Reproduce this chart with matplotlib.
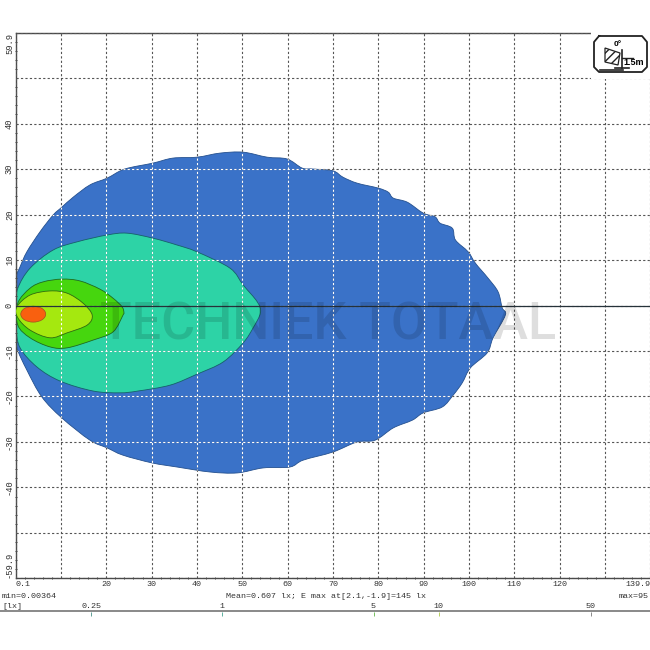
import matplotlib
matplotlib.use("Agg")
import matplotlib.pyplot as plt
from matplotlib.patches import Polygon, Ellipse, Rectangle, PathPatch
from matplotlib.path import Path

# contornos (x, y en metros)
azul_x = [0.1, 0.1, 1.0, 2.5, 5.4, 8.3, 10.2, 12.7, 16.4, 20.2, 24.1, 30.3, 34.7, 40.0, 45.1, 50.2, 55.5, 59.9,
          63.2, 65.6, 70.0, 72.2, 75.3, 80.0, 82.2, 83.3, 86.4, 89.9, 92.5, 93.6, 96.3, 97.0, 99.8, 101.4, 104.2,
          106.4, 107.3, 108.0, 105.3, 104.0, 100.3, 98.5, 96.5, 94.1, 89.9, 87.5, 83.3, 79.3, 75.3, 70.0, 63.4,
          60.5, 54.6, 48.9, 42.9, 35.6, 30.1, 23.7, 20.2, 16.4, 10.2, 5.8, 2.5, 0.3, 0.1]
azul_y = [0.1, 6.0, 8.5, 11.8, 16.2, 19.9, 21.6, 23.8, 26.5, 28.0, 30.0, 31.3, 32.4, 32.6, 33.5, 33.7, 32.6, 32.2,
          30.2, 30.0, 29.6, 28.2, 26.9, 25.8, 24.9, 23.6, 22.7, 20.3, 19.5, 18.1, 17.0, 14.4, 11.8, 9.3, 6.0,
          3.0, -0.5, -2.1, -7.1, -10.4, -13.7, -17.0, -19.7, -22.3, -23.6, -25.2, -26.9, -29.6, -30.0, -32.2, -34.0,
          -35.5, -35.7, -36.8, -36.6, -35.5, -34.6, -32.9, -31.3, -29.6, -24.7, -20.1, -14.2, -9.3, -5.8]
turquesa_x = [0.1, 0.5, 3.2, 8.3, 13.6, 20.2, 24.6, 30.3, 35.6, 40.0, 47.3, 50.2, 53.3, 54.0, 52.4, 50.2, 45.8,
              40.0, 34.1, 27.0, 23.0, 17.1, 9.8, 4.7, 1.0, 0.1]
turquesa_y = [0.1, 3.8, 8.2, 12.2, 14.0, 15.5, 15.9, 14.8, 13.3, 11.8, 8.2, 4.5, 0.8, -1.6, -4.9, -8.2, -12.4,
              -15.1, -17.5, -18.8, -19.2, -18.8, -16.6, -13.5, -9.3, -4.9]
verde_x = [0.5, 3.2, 6.1, 10.2, 14.2, 18.6, 21.5, 23.5, 23.9, 23.7, 21.5, 17.1, 11.4, 7.6, 3.2, 0.5]
verde_y = [0.5, 3.8, 5.2, 5.8, 5.4, 3.6, 1.6, -0.3, -1.6, -2.1, -5.8, -7.6, -9.3, -9.1, -7.1, -4.3]
amarillo_x = [0.3, 3.2, 7.6, 11.4, 14.9, 16.9, 15.8, 11.4, 7.6, 3.2, 0.5]
amarillo_y = [-0.3, 2.3, 3.2, 2.7, 0.5, -2.1, -4.3, -6.0, -7.1, -5.4, -2.7]
naranja_centro = (3.9, -1.9)
naranja_ancho = 5.5
naranja_alto = 3.5

x_ticks = [0.1, 10, 20, 30, 40, 50, 60, 70, 80, 90, 100, 110, 120, 130, 139.9]
x_labels = ["0.1", "", "20", "30", "40", "50", "60", "70", "80", "90", "100", "110", "120", "", "139.9"]
y_ticks = [-59.9, -50, -40, -30, -20, -10, 0, 10, 20, 30, 40, 50, 59.9]
y_labels = ["-59.9", "", "-40", "-30", "-20", "-10", "0", "10", "20", "30", "40", "", "59.9"]
escala_ticks = [0.25, 1, 5, 10, 50]
escala_labels = ["0.25", "1", "5", "10", "50"]
escala_colores = ["#5f9f96", "#5fb0a0", "#77c060", "#b8d060", "#888888"]

MONO = "Liberation Mono"
GRIS = "#4a4a4a"
TEXTO = "#333333"


def curva(xs, ys):
    # contorno cerrado con curvas suaves que pasan por los puntos leidos
    n = len(xs)
    verts = [(xs[0], ys[0])]
    codes = [Path.MOVETO]
    for i in range(n):
        x0, y0 = xs[i - 1], ys[i - 1]
        x1, y1 = xs[i], ys[i]
        x2, y2 = xs[(i + 1) % n], ys[(i + 1) % n]
        x3, y3 = xs[(i + 2) % n], ys[(i + 2) % n]
        verts += [(x1 + (x2 - x0) / 6, y1 + (y2 - y0) / 6), (x2 - (x3 - x1) / 6, y2 - (y3 - y1) / 6), (x2, y2)]
        codes += [Path.CURVE4, Path.CURVE4, Path.CURVE4]
    return Path(verts, codes)


fig = plt.figure(figsize=(6.5, 6.5), dpi=100)
ax = fig.add_axes([16 / 650, 72 / 650, 634 / 650, 545 / 650])
ax.set_xlim(0.1, 139.9)
ax.set_ylim(-59.9, 59.9)

# zonas de iluminacion
azul = PathPatch(curva(azul_x, azul_y), fc="#3a72c8", ec="#24508f", lw=0.6, zorder=1)
ax.add_patch(azul)
ax.add_patch(PathPatch(curva(turquesa_x, turquesa_y), fc="#2dd3a6", ec="#17606a", lw=0.6, zorder=2))
ax.add_patch(PathPatch(curva(verde_x, verde_y), fc="#46d60e", ec="#1f6a20", lw=0.6, zorder=3))
ax.add_patch(PathPatch(curva(amarillo_x, amarillo_y), fc="#a5e80f", ec="#2f6a10", lw=0.6, zorder=4))
ax.add_patch(Ellipse(naranja_centro, naranja_ancho, naranja_alto, fc="#f9600f", ec="#a05020", lw=0.5, zorder=5))

# rejilla: oscura sobre blanco, blanca dentro de la zona azul
punteado = (0, (2, 2))
ax.set_xticks(x_ticks)
ax.set_xticklabels(x_labels, family=MONO, fontsize=6, color=TEXTO)
ax.set_yticks(y_ticks)
ax.set_yticklabels(y_labels, family=MONO, fontsize=6.3, color=TEXTO, rotation=90, va="center")
ax.set_xticks(range(2, 140, 2), minor=True)
ax.set_yticks(range(-58, 60, 2), minor=True)
ax.grid(True, which="major", color="#555555", lw=0.8, linestyle=punteado, zorder=6)
ax.set_axisbelow(False)
ax.tick_params(which="major", length=0)
ax.tick_params(axis="x", which="major", pad=2)
ax.tick_params(axis="y", which="major", pad=1.5)
ax.tick_params(which="minor", length=1.5, width=0.7, color=GRIS, direction="inout")
ax.get_xticklabels()[0].set_ha("left")
ax.get_xticklabels()[-1].set_ha("right")
ax.get_yticklabels()[0].set_va("bottom")
ax.get_yticklabels()[-1].set_va("top")

for v in x_ticks[1:-1]:
    ln = ax.axvline(v, color="white", lw=0.8, linestyle=punteado, zorder=7)
    ln.set_clip_path(azul)
for v in y_ticks[1:-1]:
    ln = ax.axhline(v, color="white", lw=0.8, linestyle=punteado, zorder=7)
    ln.set_clip_path(azul)
ax.axhline(0, color="#26323a", lw=0.9, zorder=8)

ax.spines["right"].set_visible(False)
ax.spines["top"].set_bounds(0.1, 126.6)
for lado in ["left", "bottom", "top"]:
    ax.spines[lado].set_color(GRIS)
    ax.spines[lado].set_linewidth(1.0)

# escala logaritmica de lux abajo
esc = fig.add_axes([0, 38 / 650, 1, 0.001])
esc.set_xscale("log")
esc.set_xlim(0.095, 94)
esc.set_yticks([])
esc.set_xticks(escala_ticks)
esc.set_xticklabels(escala_labels, family=MONO, fontsize=6, color=TEXTO)
esc.minorticks_off()
esc.tick_params(axis="x", top=False, labeltop=True, bottom=True, labelbottom=False, length=3, width=0.7, pad=-2)
for t, c in zip(esc.xaxis.get_major_ticks(), escala_colores):
    t.tick1line.set_markeredgecolor(c)
for lado in ["left", "right", "bottom"]:
    esc.spines[lado].set_visible(False)
esc.spines["top"].set_color("#808080")
esc.spines["top"].set_linewidth(1.3)

# capa en pixeles para textos sueltos, icono y marca de agua
capa = fig.add_axes([0, 0, 1, 1], facecolor="none")
capa.set_xlim(0, 650)
capa.set_ylim(650, 0)
capa.axis("off")

capa.text(2, 597, "min=0.00364", family=MONO, fontsize=6, va="center", color=TEXTO)
capa.text(326, 597, "Mean=0.607 lx; E max at[2.1,-1.9]=145 lx", family=MONO, fontsize=6,
          ha="center", va="center", color=TEXTO)
capa.text(619, 597, "max=95", family=MONO, fontsize=6, va="center", color=TEXTO)
capa.text(2, 606, "[lx]", family=MONO, fontsize=6, va="center", color=TEXTO)

capa.text(328, 326, "TECHNIEK TOTAAL", family="Roboto", fontweight="medium", fontsize=37.5, ha="center", va="center",
          color="black", alpha=0.13, zorder=3)

# icono de arriba a la derecha
capa.add_patch(Rectangle((591, 30), 59, 49, fc="white", ec="none", zorder=4))
caja_x = [599, 642, 647, 647, 642, 599, 594, 594, 599]
caja_y = [36, 36, 42, 67, 72, 72, 67, 42, 36]
capa.plot(caja_x, caja_y, color="#222222", lw=1.3, zorder=5)
capa.text(618, 44, "0°", fontsize=6, family="Liberation Sans", fontweight="bold", ha="center", va="center", zorder=5)
capa.text(634, 62.5, "1.5m", fontsize=6.5, family="Liberation Sans", fontweight="bold", ha="center", va="center", zorder=5)
capa.plot([600, 623], [70, 70], color="#222222", lw=1.2, zorder=5)
capa.plot([622, 622], [50, 68], color="#222222", lw=1.2, zorder=5)
capa.plot([615, 629], [68, 68], color="#222222", lw=1.2, zorder=5)
capa.plot([622, 633], [58, 58], color="#222222", lw=1.0, zorder=5)
capa.add_patch(Polygon([(605, 48), (620, 53), (618, 65), (605, 62)], fc="white", ec="#222222", lw=0.9,
                       hatch="////", zorder=5))

plt.savefig("out.png", dpi=100)
